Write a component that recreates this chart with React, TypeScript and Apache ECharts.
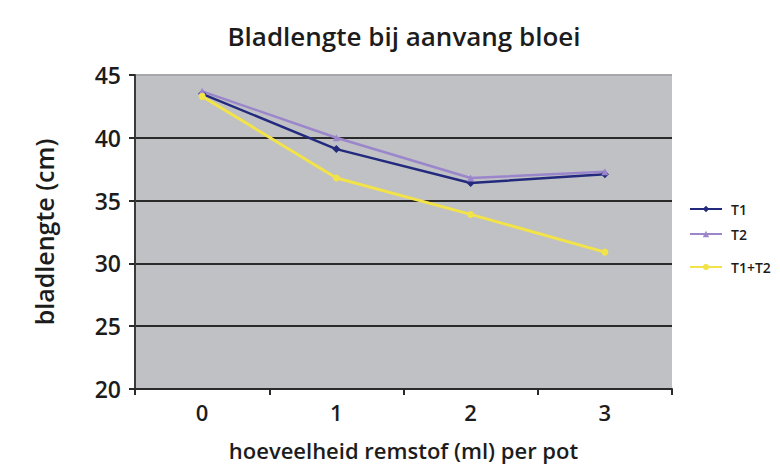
import React, { useEffect, useRef } from "react";
import * as echarts from "echarts";

const categories = ["0", "1", "2", "3"];
const t1 = [43.5, 39.1, 36.4, 37.1];
const t2 = [43.7, 40.0, 36.8, 37.3];
const t1t2 = [43.3, 36.8, 33.9, 30.9];
const seriesNames = ["T1", "T2", "T1+T2"];
const legendTops = [197, 222, 255];

export default function App() {
  const ref = useRef<HTMLDivElement>(null);
  useEffect(() => {
    const chart = echarts.init(ref.current!, undefined, { renderer: "svg" });
    const font = "'Open Sans', 'Noto Sans', sans-serif";
    const txt = "#1c1c1c";
    chart.setOption({
      animation: false,
      backgroundColor: "#ffffff",
      title: {
        text: "Bladlengte bij aanvang bloei",
        left: 399,
        top: 18,
        textAlign: "center",
        textStyle: { fontFamily: font, fontSize: 26, fontWeight: 600, color: txt },
      },
      legend: seriesNames.map((n, i) => ({
        orient: "vertical",
        left: 684,
        top: legendTops[i],
        itemWidth: 32,
        itemHeight: 8,
        textStyle: { fontFamily: font, fontSize: 14, fontWeight: 600, color: txt, padding: [0, 0, 0, 4] },
        data: [n],
      })),
      grid: { left: 135, right: 108, top: 75, bottom: 78, show: true, backgroundColor: "#bfc1c4", borderWidth: 0 },
      xAxis: {
        type: "category",
        data: categories,
        boundaryGap: true,
        name: "hoeveelheid remstof (ml) per pot",
        nameLocation: "middle",
        nameGap: 50,
        nameTextStyle: { fontFamily: font, fontSize: 22, fontWeight: 600, color: txt },
        axisLine: { lineStyle: { color: "#2a2a2a", width: 2 } },
        axisTick: { show: true, length: 6, lineStyle: { color: "#2a2a2a", width: 2 } },
        axisLabel: { fontFamily: font, fontSize: 22, fontWeight: 600, color: txt, margin: 12 },
      },
      yAxis: {
        type: "value",
        min: 20,
        max: 45,
        interval: 5,
        name: "bladlengte (cm)",
        nameLocation: "middle",
        nameGap: 79,
        nameTextStyle: { fontFamily: font, fontSize: 25, fontWeight: 600, color: txt },
        axisLine: { show: true, lineStyle: { color: "#3a3a3a", width: 2 } },
        axisTick: { show: true, length: 6, lineStyle: { color: "#2a2a2a", width: 2 } },
        axisLabel: { fontFamily: font, fontSize: 23, fontWeight: 600, color: txt, margin: 14 },
        splitLine: {
          show: true,
          lineStyle: { color: ["#2a2a2a", "#2a2a2a", "#2a2a2a", "#2a2a2a", "#2a2a2a", "#a6a8ab"], width: 2 },
        },
      },
      series: [
        {
          name: "T1",
          type: "line",
          data: t1,
          symbol: "diamond",
          symbolSize: 8,
          itemStyle: { color: "#232a7e" },
          lineStyle: { color: "#232a7e", width: 2.5 },
        },
        {
          name: "T2",
          type: "line",
          data: t2,
          symbol: "triangle",
          symbolSize: 7,
          itemStyle: { color: "#9b86cc" },
          lineStyle: { color: "#9b86cc", width: 2.5 },
        },
        {
          name: "T1+T2",
          type: "line",
          data: t1t2,
          symbol: "circle",
          symbolSize: 7,
          itemStyle: { color: "#f2e34a" },
          lineStyle: { color: "#f2e34a", width: 3 },
        },
      ],
    });
    return () => chart.dispose();
  }, []);
  return <div ref={ref} style={{ position: "absolute", left: 0, top: 0, width: 780, height: 467 }} />;
}
